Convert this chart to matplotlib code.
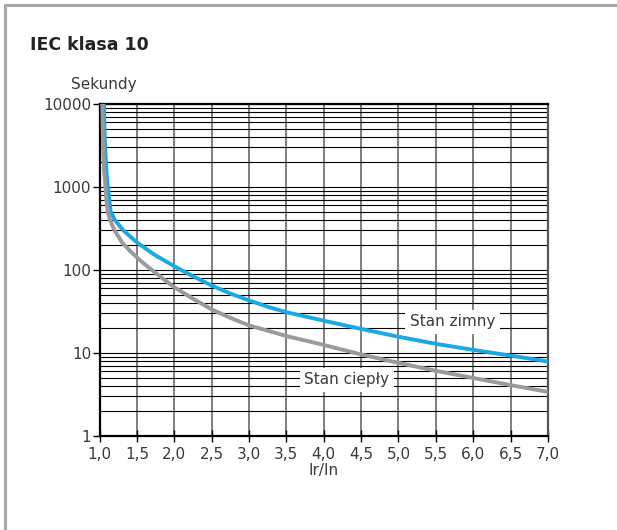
import matplotlib
matplotlib.use('Agg')
import matplotlib.pyplot as plt
from matplotlib.lines import Line2D
from matplotlib.ticker import FixedLocator, FuncFormatter, LogLocator, NullFormatter

## Dane ##
zimny_x = [1.059, 1.065, 1.078, 1.095, 1.11, 1.128, 1.148, 1.206, 1.317, 1.5, 1.737,
           2.0, 2.25, 2.5, 2.75, 3.0, 3.25, 3.5, 4.0, 4.5, 5.0, 5.5, 6.0, 6.5, 7.0]
zimny_y = [10000, 5000, 2500, 1400, 1000, 720, 500, 400, 300, 215, 152,
           111, 84, 65, 52, 43, 36, 31, 24.5, 19.5, 15.7, 12.9, 10.9, 9.3, 7.9]

cieply_x = [1.036, 1.042, 1.05, 1.062, 1.08, 1.09, 1.11, 1.14, 1.2, 1.3, 1.42, 1.5, 1.6,
            1.75, 2.0, 2.25, 2.5, 2.75, 3.0, 3.5, 4.0, 4.5, 5.0, 5.5, 6.0, 6.5, 7.0]
cieply_y = [10000, 5000, 2500, 1500, 1000, 700, 500, 400, 300, 215, 165, 142, 118,
            92, 62, 45, 33.5, 26.5, 21.5, 16, 12.5, 9.6, 7.6, 6.1, 5.0, 4.1, 3.4]

x_ticks = [1.0, 1.5, 2.0, 2.5, 3.0, 3.5, 4.0, 4.5, 5.0, 5.5, 6.0, 6.5, 7.0]
y_ticks = [1, 10, 100, 1000, 10000]

niebieski = '#19a9e4'
szary = '#9a9a9c'
tekst = '#3a3a3a'

plt.rcParams['font.family'] = ['DejaVu Sans']

fig = plt.figure(figsize=(6.17, 5.30), dpi=100)
ax = fig.add_axes([0.1614, 0.1774, 0.7266, 0.6264])

## Siatka ##
ax.set_yscale('log')
ax.set_xlim(1.0, 7.0)
ax.set_ylim(1, 10000)
ax.xaxis.set_major_locator(FixedLocator(x_ticks))
ax.yaxis.set_major_locator(FixedLocator(y_ticks))
ax.yaxis.set_minor_locator(LogLocator(base=10, subs=range(2, 10)))
ax.yaxis.set_minor_formatter(NullFormatter())
ax.xaxis.set_major_formatter(FuncFormatter(lambda v, p: f'{v:.1f}'.replace('.', ',')))
ax.yaxis.set_major_formatter(FuncFormatter(lambda v, p: f'{int(v)}'))

ax.grid(True, axis='y', which='both', color='black', lw=0.8, zorder=1)
ax.grid(True, axis='x', which='major', color='#6a6a6a', lw=1.2, zorder=1)
ax.set_axisbelow(True)

ax.tick_params(axis='x', which='major', direction='inout', length=8, width=1,
               colors='black', labelcolor=tekst, labelsize=11, pad=4)
ax.tick_params(axis='y', which='major', direction='out', length=5, width=1,
               colors='black', labelcolor=tekst, labelsize=11, pad=1)
ax.tick_params(axis='y', which='minor', length=0)

for s in ['left', 'bottom', 'top']:
    ax.spines[s].set_linewidth(1.6)
    ax.spines[s].set_color('black')
ax.spines['right'].set_linewidth(1.6)
ax.spines['right'].set_color('#555555')

## Krzywe ##
ax.plot(zimny_x, zimny_y, color=niebieski, lw=2.8, solid_capstyle='butt',
        solid_joinstyle='round', zorder=3)
ax.plot(cieply_x, cieply_y, color=szary, lw=2.8, solid_capstyle='butt',
        solid_joinstyle='round', zorder=3)

ax.text(5.72, 23.8, 'Stan zimny', fontsize=11, color=tekst, ha='center', va='center',
        bbox=dict(boxstyle='square,pad=0.3', fc='white', ec='none'), zorder=4)
ax.text(4.31, 4.73, 'Stan ciepły', fontsize=11, color=tekst, ha='center', va='center',
        bbox=dict(boxstyle='square,pad=0.3', fc='white', ec='none'), zorder=4)

ax.set_xlabel('Ir/In', fontsize=11, color=tekst, labelpad=1)

## Tytuł i opisy ##
fig.text(30 / 617, 1 - 50 / 530, 'IEC klasa 10', fontsize=12.5, fontweight='bold',
         color='#222222', ha='left', va='baseline')
fig.text(104 / 617, 1 - 89 / 530, 'Sekundy', fontsize=11, color=tekst,
         ha='center', va='baseline')

## Ramka ##
fig.add_artist(Line2D([5 / 617, 1], [1 - 5 / 530, 1 - 5 / 530], color='#a9a9ab', lw=2.2))
fig.add_artist(Line2D([5 / 617, 5 / 617], [0, 1 - 5 / 530], color='#a9a9ab', lw=2.2))

fig.savefig('out.png', dpi=100)
